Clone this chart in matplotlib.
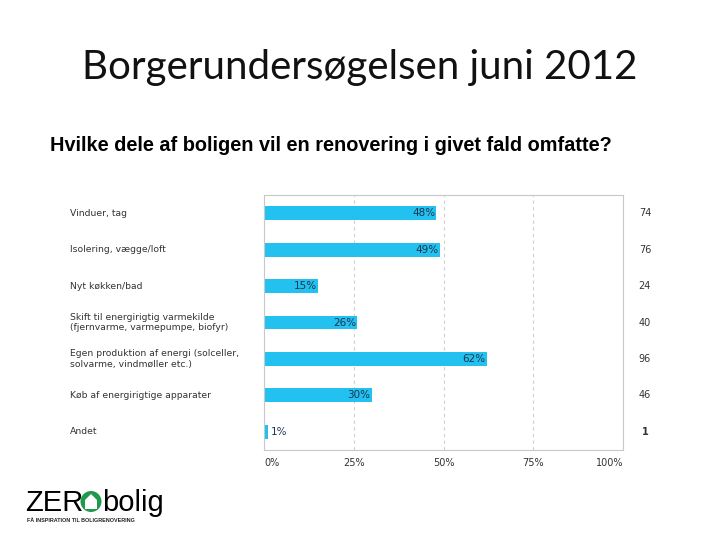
import matplotlib
matplotlib.use("Agg")
import matplotlib.pyplot as plt
import matplotlib.transforms as mtransforms
from matplotlib.patches import Polygon, Circle

# data
categories = ["Vinduer, tag",
              "Isolering, vægge/loft",
              "Nyt køkken/bad",
              "Skift til energirigtig varmekilde\n(fjernvarme, varmepumpe, biofyr)",
              "Egen produktion af energi (solceller,\nsolvarme, vindmøller etc.)",
              "Køb af energirigtige apparater",
              "Andet"]
percents = [48, 49, 15, 26, 62, 30, 1]
counts = [74, 76, 24, 40, 96, 46, 1]
ticks = [0, 25, 50, 75, 100]
tick_labels = ["0%", "25%", "50%", "75%", "100%"]

bar_color = "#22c1ef"
frame_color = "#c8c8c8"
text_color = "#333333"
label_color = "#1c3550"

fig = plt.figure(figsize=(7.2, 5.4), dpi=100)
fig.text(0.5, 1 - 68 / 540, "Borgerundersøgelsen juni 2012", family="Lato",
         fontsize=29, ha="center", va="center", color="#111111")
fig.text(50 / 720, 1 - 145 / 540, "Hvilke dele af boligen vil en renovering i givet fald omfatte?",
         family="Liberation Sans", fontweight="bold", fontsize=14.3, ha="left", va="center")

ax = fig.add_axes([264 / 720, 1 - 450 / 540, (623 - 264) / 720, (450 - 195) / 540])
y = list(range(len(categories)))
ax.barh(y, percents, height=0.38, color=bar_color)
ax.set_xlim(0, 100)
ax.set_ylim(len(categories) - 0.5, -0.5)

for g in ticks[1:-1]:
    ax.axvline(g, color="#d0d0d0", lw=0.8, ls=(0, (3, 3)), zorder=0)
for s in ax.spines.values():
    s.set_color(frame_color)
    s.set_linewidth(0.8)
ax.set_yticks([])
ax.set_xticks(ticks)
ax.set_xticklabels(tick_labels, fontsize=7, color=text_color)
ax.tick_params(axis="x", length=0, pad=6)
for i, t in enumerate(ax.get_xticklabels()):
    if i == 0:
        t.set_ha("left")
    elif i == len(ticks) - 1:
        t.set_ha("right")

trans = mtransforms.blended_transform_factory(ax.transAxes, ax.transData)
for i, (cat, p, n) in enumerate(zip(categories, percents, counts)):
    ax.text(-0.54, i, cat, transform=trans, fontsize=6.7, color=text_color,
            ha="left", va="center", linespacing=1.2)
    if p > 5:
        ax.text(p - 0.3, i, f"{p}%", fontsize=7.5, color=label_color, ha="right", va="center")
    else:
        ax.text(p + 0.8, i, f"{p}%", fontsize=7.5, color=label_color, ha="left", va="center")
    ax.text(1.061, i, str(n), transform=trans, fontsize=7, color=text_color,
            ha="center", va="center", fontweight="bold" if n == 1 else "normal")

# logo: ZER + green circle with white house + bolig
fig.text(25 / 720, 1 - 511 / 540, "ZER", family="Liberation Sans", fontsize=21,
         ha="left", va="baseline", color="black")
fig.patches.append(Circle((91, 540 - 501.5), 10.5, facecolor="#1f9a4c", edgecolor="none",
                          transform=None))
house = [(85, 509), (85, 500), (91, 494), (97, 500), (97, 509)]
fig.patches.append(Polygon([(x, 540 - yy) for x, yy in house], closed=True,
                           facecolor="white", edgecolor="none", transform=None))
fig.text(102 / 720, 1 - 511 / 540, "bolig", family="Liberation Sans", fontsize=21,
         ha="left", va="baseline", color="black")
fig.text(27 / 720, 1 - 521 / 540, "FÅ INSPIRATION TIL BOLIGRENOVERING", family="Liberation Sans",
         fontweight="bold", fontsize=3.9, ha="left", va="center", color="#222222")

fig.savefig("out.png", dpi=100)
